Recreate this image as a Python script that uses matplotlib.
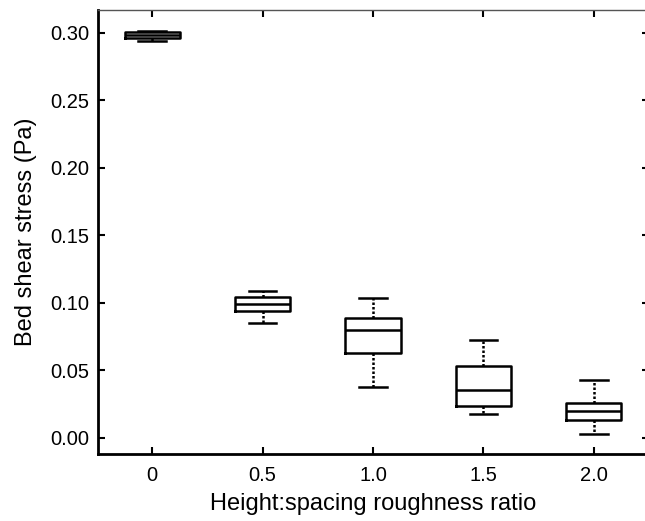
import matplotlib
matplotlib.use("Agg")
import matplotlib.pyplot as plt

plt.rcParams['font.family'] = ['Liberation Sans', 'DejaVu Sans']

# roughness ratios and box statistics (Pa)
ratios = [0, 0.5, 1.0, 1.5, 2.0]
tick_labels = ['0', '0.5', '1.0', '1.5', '2.0']
whislo = [0.2940, 0.0847, 0.0376, 0.0173, 0.0027]
q1 = [0.2962, 0.0939, 0.0632, 0.0237, 0.0133]
med = [0.2986, 0.0993, 0.0800, 0.0356, 0.0200]
q3 = [0.3009, 0.1042, 0.0891, 0.0534, 0.0259]
whishi = [0.3016, 0.1091, 0.1037, 0.0726, 0.0425]

stats = []
for i in range(len(ratios)):
    stats.append(dict(whislo=whislo[i], q1=q1[i], med=med[i], q3=q3[i],
                      whishi=whishi[i], fliers=[]))

fig = plt.figure(figsize=(6.45, 5.21), dpi=100)
ax = fig.add_axes([98 / 645, 1 - 454 / 521, 551 / 645, 444 / 521])

ax.bxp(stats, positions=ratios, widths=0.25, showfliers=False,
       boxprops=dict(color='black', linewidth=1.8),
       medianprops=dict(color='black', linewidth=1.8),
       whiskerprops=dict(color='black', linewidth=1.8, linestyle=(0, (1, 0.8))),
       capprops=dict(color='black', linewidth=1.8),
       capwidths=0.125)

ax.set_xlim(-0.245, 2.25)
ax.set_ylim(-0.012, 0.317)
ax.set_xticks(ratios)
ax.set_xticklabels(tick_labels)
ax.set_yticks([0, 0.05, 0.10, 0.15, 0.20, 0.25, 0.30])
ax.set_yticklabels(['0.00', '0.05', '0.10', '0.15', '0.20', '0.25', '0.30'])
ax.tick_params(direction='in', length=5, width=1.5, labelsize=14.5,
               top=True, right=True)
ax.tick_params(axis='x', pad=8.5)
ax.tick_params(axis='y', pad=6)

for s in ['left', 'bottom']:
    ax.spines[s].set_linewidth(2.0)
for s in ['top', 'right']:
    ax.spines[s].set_linewidth(1.0)
    ax.spines[s].set_color('#555555')

ax.set_xlabel('Height:spacing roughness ratio', fontsize=17, labelpad=6)
ax.set_ylabel('Bed shear stress (Pa)', fontsize=17, labelpad=10)

fig.savefig('out.png', dpi=100)
